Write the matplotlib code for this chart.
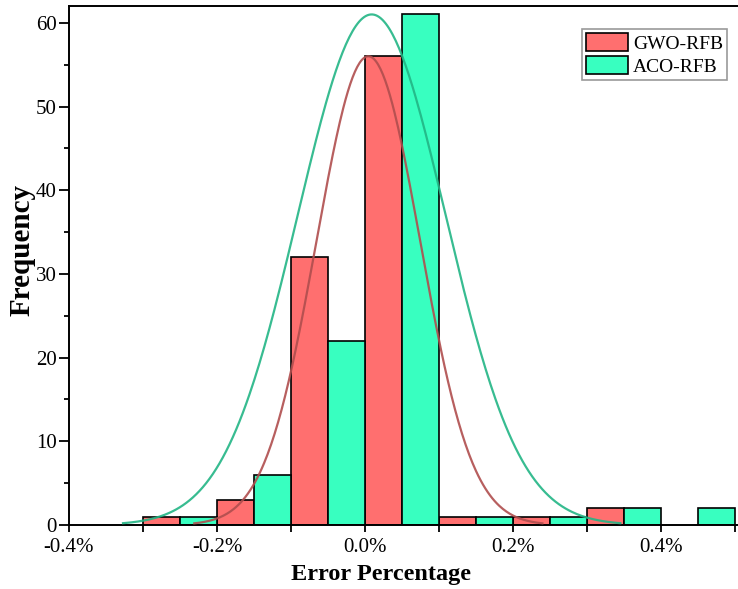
import numpy as np
import matplotlib
matplotlib.use("Agg")
import matplotlib.pyplot as plt
from matplotlib.patches import Patch

# ---- data (error in %) ----
gwo_bin_left = [-0.30, -0.20, -0.10, 0.00, 0.10, 0.20, 0.30]
gwo_counts   = [1, 3, 32, 56, 1, 1, 2]
aco_bin_left = [-0.25, -0.15, -0.05, 0.05, 0.15, 0.25, 0.35, 0.45]
aco_counts   = [1, 6, 22, 61, 1, 1, 2, 2]
bin_width = 0.05

# normal-fit curve parameters
gwo_fit = dict(mu=0.0045, sigma=0.070, peak=56)
aco_fit = dict(mu=0.009, sigma=0.100, peak=61)

xtick_vals = [-0.4, -0.2, 0.0, 0.2, 0.4]
xtick_labels = ["-0.4%", "-0.2%", "0.0%", "0.2%", "0.4%"]
ytick_vals = [0, 10, 20, 30, 40, 50, 60]

plt.rcParams['font.family'] = ['Liberation Serif', 'DejaVu Serif']

fig = plt.figure(figsize=(7.38, 5.89), dpi=100)
W, H = 738, 589
left_px, right_px, bottom_px, top_px = 69, 741, 525, 6
ax = fig.add_axes([left_px / W, (H - bottom_px) / H, (right_px - left_px) / W, (bottom_px - top_px) / H])

red_fill = '#FF6F6F'
green_fill = '#38FFC0'
red_line = '#B04E4E'
green_line = '#22B585'

ax.bar(gwo_bin_left, gwo_counts, width=bin_width, align='edge', color=red_fill,
       edgecolor='black', linewidth=1.2, zorder=2)
ax.bar(aco_bin_left, aco_counts, width=bin_width, align='edge', color=green_fill,
       edgecolor='black', linewidth=1.2, zorder=2)

for fit, col in ((gwo_fit, red_line), (aco_fit, green_line)):
    xs = np.linspace(fit['mu'] - 3.36 * fit['sigma'], fit['mu'] + 3.36 * fit['sigma'], 300)
    ys = fit['peak'] * np.exp(-0.5 * ((xs - fit['mu']) / fit['sigma']) ** 2)
    ax.plot(xs, ys, color=col, linewidth=1.6, alpha=0.9, zorder=3)

xmax = -0.4 + (right_px - left_px) / 740.0
ax.set_xlim(-0.4, xmax)
ymax = (bottom_px - top_px) / 8.37
ax.set_ylim(0, ymax)

ax.set_xticks(xtick_vals)
ax.set_xticklabels(xtick_labels)
ax.set_xticks([-0.3, -0.1, 0.1, 0.3, 0.5], minor=True)
ax.set_yticks(ytick_vals)
ax.set_yticks([5, 15, 25, 35, 45, 55], minor=True)

ax.tick_params(axis='x', which='both', direction='out', length=5, width=1.3, labelsize=15, pad=4)
ax.tick_params(axis='y', which='major', direction='out', length=7, width=1.3, labelsize=15, pad=2)
ax.tick_params(axis='y', which='minor', direction='out', length=3.5, width=1.3)

for s in ('left', 'bottom', 'top'):
    ax.spines[s].set_linewidth(1.4)
ax.spines['right'].set_visible(False)

ax.set_xlabel('Error Percentage', fontsize=17.5, fontweight='bold', labelpad=5)
ax.xaxis.set_label_coords((381 - left_px) / (right_px - left_px), -0.075)
ax.set_ylabel('Frequency', fontsize=21, fontweight='bold')
ax.yaxis.set_label_coords((36 - left_px) / (right_px - left_px), (bottom_px - 250) / (bottom_px - top_px))

handles = [Patch(facecolor=red_fill, edgecolor='black', linewidth=1.2, label='GWO-RFB'),
           Patch(facecolor=green_fill, edgecolor='black', linewidth=1.2, label='ACO-RFB')]
leg = ax.legend(handles=handles, loc='upper right',
                bbox_to_anchor=((727 - left_px) / (right_px - left_px), (bottom_px - 29) / (bottom_px - top_px)),
                fontsize=14, frameon=True, fancybox=False, edgecolor='#808080',
                handlelength=2.15, handleheight=1.05, handletextpad=0.25,
                borderpad=0.2, labelspacing=0.2, borderaxespad=0)
leg.get_frame().set_linewidth(1.2)

fig.savefig('out.png', dpi=100)
